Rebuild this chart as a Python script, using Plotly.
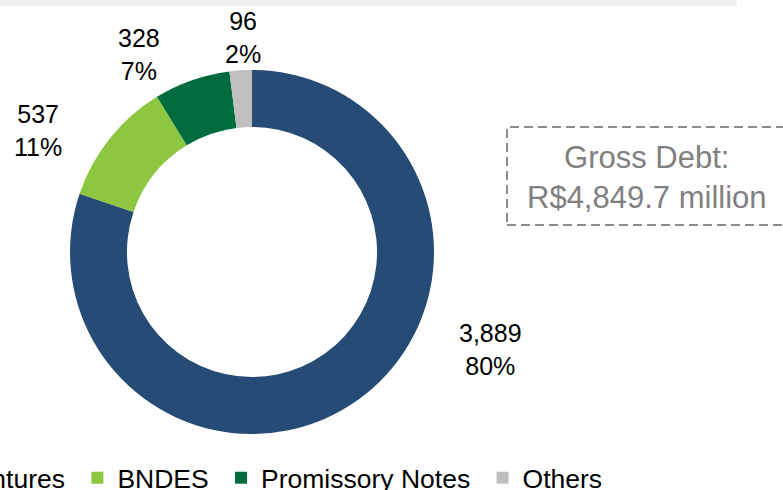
import plotly.graph_objects as go

# Gross debt breakdown (R$ million)
categories = ["Debentures", "BNDES", "Promissory Notes", "Others"]
values = [3889, 537, 328, 96]
colors = ["#264b75", "#8dc63f", "#006b3f", "#bfbfbf"]

W, H = 783, 490
MB = 40                      # bottom margin that holds the legend
PH = H - MB                  # plot-area height
FONT = "Arial, Liberation Sans, sans-serif"

# donut geometry in pixels
cx, cy, r = 252, 252, 182

def px(x):
    return x / W

def py(y):
    return (PH - y) / PH

total = sum(values)
label_text = [f"{v:,}<br>{round(100 * v / total):.0f}%" for v in values]
# a trailing no-break space widens each legend entry a little
legend_names = [c + "\u00a0" for c in categories]

# label anchor centres (pixels)
label_pos = [(490, 349), (38, 130), (139, 54), (243, 38)]

fig = go.Figure()
fig.add_trace(go.Pie(
    labels=legend_names,
    values=values,
    hole=0.687,
    sort=False,
    direction="clockwise",
    rotation=0,
    marker=dict(colors=colors, line=dict(width=0)),
    textinfo="none",
    hoverinfo="label+value+percent",
    domain=dict(x=[px(cx - r), px(cx + r)], y=[py(cy + r), py(cy - r)]),
))

annotations = []
for txt, (lx, ly) in zip(label_text, label_pos):
    annotations.append(dict(
        x=px(lx), y=py(ly), xref="paper", yref="paper",
        text=txt, showarrow=False, xanchor="center", yanchor="middle",
        font=dict(family=FONT, size=25, color="#000000"),
    ))

annotations.append(dict(
    x=px(647), y=py(177), xref="paper", yref="paper",
    text="Gross Debt:<br>R$4,849.7 million", showarrow=False,
    xanchor="center", yanchor="middle",
    font=dict(family=FONT, size=31, color="#808080"),
))

shapes = [
    # header band
    dict(type="rect", xref="paper", yref="paper",
         x0=0, x1=px(737), y0=py(6), y1=py(0),
         fillcolor="#f0f0f0", line=dict(width=0), layer="below"),
    # dashed callout box
    dict(type="rect", xref="paper", yref="paper",
         x0=px(507), x1=px(800), y0=py(225), y1=py(127),
         fillcolor="rgba(0,0,0,0)",
         line=dict(color="#8c8c8c", width=2, dash="9px,5px")),
]

fig.update_layout(
    width=W, height=H,
    margin=dict(l=0, r=0, t=0, b=MB, pad=0, autoexpand=False),
    paper_bgcolor="#ffffff",
    plot_bgcolor="#ffffff",
    showlegend=True,
    legend=dict(
        orientation="h",
        x=px(-112), xanchor="left",
        y=py(454), yanchor="top",
        font=dict(family=FONT, size=26.5, color="#000000"),
        bgcolor="rgba(0,0,0,0)",
        itemclick=False,
    ),
    annotations=annotations,
    shapes=shapes,
)

fig.write_html("out.html")
